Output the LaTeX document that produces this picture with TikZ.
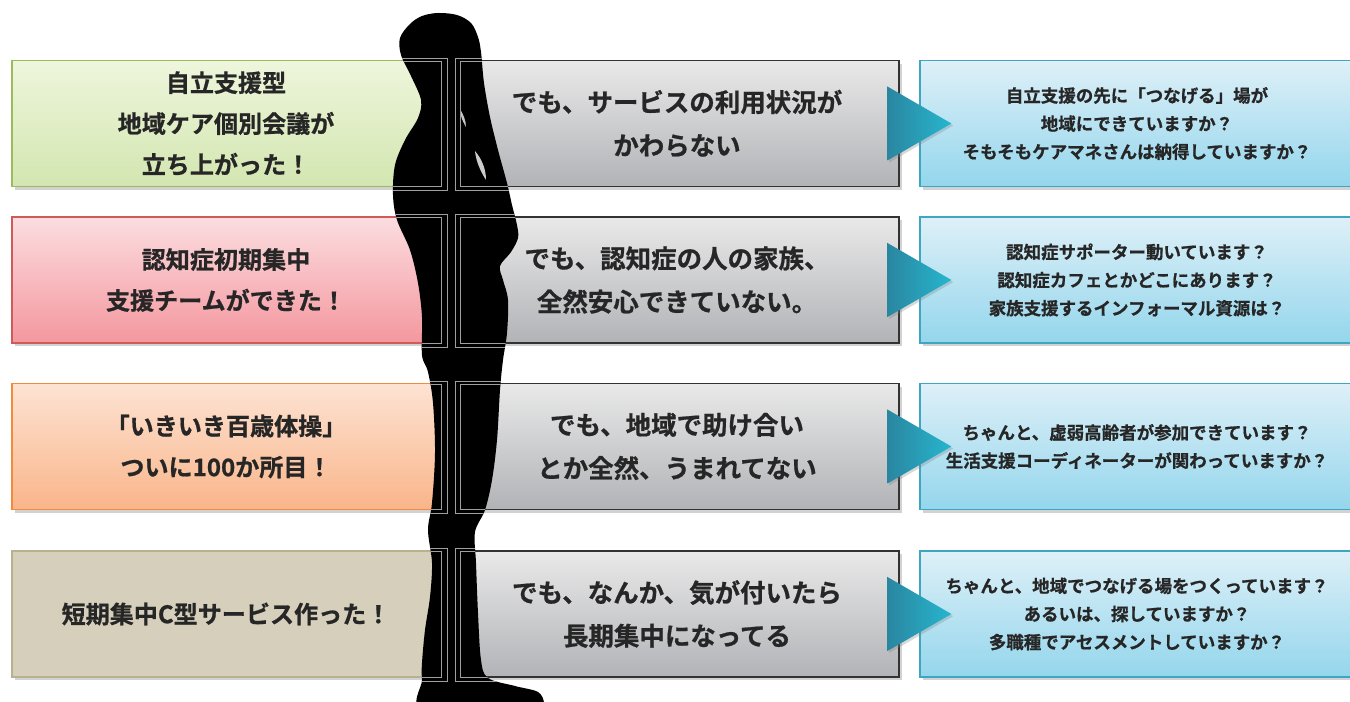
\documentclass[tikz,border=0pt]{standalone}
\usepackage{fontspec}
\setmainfont{Noto Sans CJK JP}[BoldFont={Noto Sans CJK JP Bold}, BoldFeatures={FakeBold=0.8}]
\usetikzlibrary{shadows,calc}

\definecolor{inkgray}{HTML}{262626}
\definecolor{greentop}{HTML}{EEF6DC}
\definecolor{greenbot}{HTML}{D3E6B0}
\definecolor{greenline}{HTML}{9CBC5C}
\definecolor{pinktop}{HTML}{FBDDE0}
\definecolor{pinkbot}{HTML}{F4979E}
\definecolor{pinkline}{HTML}{CF5A5A}
\definecolor{orangetop}{HTML}{FDE3D3}
\definecolor{orangebot}{HTML}{F9B58A}
\definecolor{orangeline}{HTML}{F38B3C}
\definecolor{beigefill}{HTML}{D5CFBB}
\definecolor{beigeline}{HTML}{B9B18E}
\definecolor{graytop}{HTML}{E9E9E9}
\definecolor{graybot}{HTML}{B2B3B7}
\definecolor{bluetop}{HTML}{DEF0F8}
\definecolor{bluebot}{HTML}{94D6EC}
\definecolor{blueline}{HTML}{3FA6C2}
\definecolor{tealdark}{HTML}{2A86A0}
\definecolor{teallight}{HTML}{27B6CF}

% outline of the standing man, in pixel units
\def\manpath{plot [smooth cycle, tension=0.55] coordinates {
  (438,13) (457,15) (471,23) (478,37) (481,52) (484,83) (490,117) (498,150)
  (507,183) (512,205) (517,225) (518,238) (511,252) (500,266) (503,280)
  (508,300) (507,333) (503,360) (500,390) (497,440) (492,480) (485,510)
  (475,532) (476,563) (478,613) (481,660) (488,678) (515,686) (538,692)
  (544,703) (540,712) (425,712) (422,680) (422,663) (425,630) (430,597)
  (432,563) (428,530) (432,503) (435,453) (433,403) (428,372) (422,355)
  (422,317) (418,283) (410,250) (397,220) (393,195) (395,165) (405,140)
  (418,118) (421,100) (411,76) (401,55) (400,38) (410,24) (422,16)}}

\begin{document}
\begin{tikzpicture}[x=0.02cm, y=-0.02cm]
            \tikzstyle{every node}+=[inner sep=0pt, text=inkgray]
            \tikzstyle{card}=[rectangle, draw, line width=0.7pt, minimum height=2.52cm, align=center,
              drop shadow={shadow xshift=1.6pt, shadow yshift=-1.8pt, opacity=0.35}]
            \tikzstyle{donebox}=[card, minimum width=8.56cm, font=\fontsize{13.7}{23.3}\selectfont\bfseries]
            \tikzstyle{gapbox}=[card, minimum width=8.88cm, draw=black!80, top color=graytop, bottom color=graybot,
              font=\fontsize{14.5}{24.6}\selectfont\bfseries]
            \tikzstyle{askbox}=[card, minimum width=8.68cm, draw=blueline, top color=bluetop, bottom color=bluebot,
              font=\fontsize{9.95}{16}\selectfont\bfseries]
            \tikzstyle{pointer}=[left color=tealdark, right color=teallight,
              drop shadow={shadow xshift=1pt, shadow yshift=-1.2pt, opacity=0.3}]
            \tikzstyle{frame}=[draw=gray!75, line width=0.4pt]
            \useasboundingbox (0,0) rectangle (1350,702);
            \fill [white] (0,0) rectangle (1350,702);

            \node [donebox, draw=greenline, top color=greentop, bottom color=greenbot] (done1) at (226,123.5)
              {自立支援型\\地域ケア個別会議が\\立ち上がった！};
            \node [donebox, draw=pinkline, top color=pinktop, bottom color=pinkbot] (done2) at (226,280)
              {認知症初期集中\\支援チームができた！};
            \node [donebox, draw=orangeline, top color=orangetop, bottom color=orangebot] (done3) at (226,446.5)
              {「いきいき百歳体操」\\ついに100か所目！};
            \node [donebox, draw=beigeline, fill=beigefill] (done4) at (226,614)
              {短期集中C型サービス作った！};

            \node [gapbox] (gap1) at (677,123.5) {でも、サービスの利用状況が\\かわらない};
            \node [gapbox] (gap2) at (677,280) {でも、認知症の人の家族、\\全然安心できていない。};
            \node [gapbox] (gap3) at (677,446.5) {でも、地域で助け合い\\とか全然、うまれてない};
            \node [gapbox] (gap4) at (677,614) {でも、なんか、気が付いたら\\長期集中になってる};

            \node [askbox] (ask1) at (1137,123.5)
              {自立支援の先に「つなげる」場が\\地域にできていますか？\\そもそもケアマネさんは納得していますか？};
            \node [askbox] (ask2) at (1137,280)
              {認知症サポーター動いています？\\認知症カフェとかどこにあります？\\家族支援するインフォーマル資源は？};
            \node [askbox] (ask3) at (1137,446.5)
              {ちゃんと、虚弱高齢者が参加できています？\\生活支援コーディネーターが関わっていますか？};
            \node [askbox] (ask4) at (1137,614)
              {ちゃんと、地域でつなげる場をつくっています？\\あるいは、探していますか？\\多職種でアセスメントしていますか？};

            \foreach \i in {1,...,4}
              \path [pointer] ($(ask\i.west)+(-32,-37)$) -- ($(ask\i.west)+(32,0)$) -- ($(ask\i.west)+(-32,37)$) -- cycle;

            % the man standing between the two columns
            \fill [black] \manpath;
            \fill [gray!45] (460,109) .. controls (463,114) and (466,120) .. (466,127) .. controls (463,122) and (460,116) .. (460,109);
            \fill [gray!40] (475,151) .. controls (481,158) and (486,168) .. (486,180) .. controls (481,172) and (476,162) .. (475,151);
            \begin{scope}
              \clip \manpath;
              \foreach \t/\b in {61/186, 217/343, 384/509, 551/677} {
                \draw [frame] (300,\t-3) rectangle (447,\b+4);
                \draw [frame] (300,\t) rectangle (441,\b);
                \draw [frame] (455,\t-3) rectangle (600,\b+4);
                \draw [frame] (460,\t) rectangle (600,\b);
              }
            \end{scope}
\end{tikzpicture}
\end{document}
